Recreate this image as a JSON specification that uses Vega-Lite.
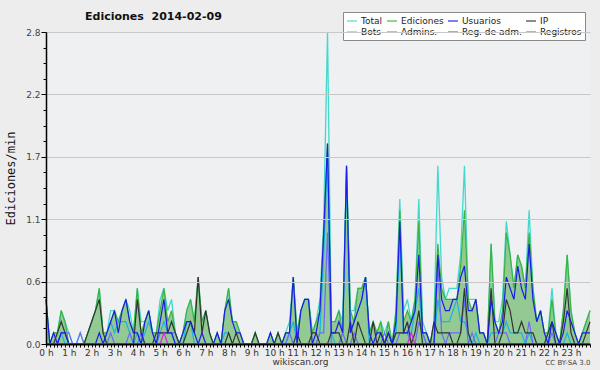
{
"$schema": "https://vega.github.io/schema/vega-lite/v6.json",
"width": 544, "height": 312,
"autosize": {"type": "none"},
"padding": {"left": 46, "top": 32, "right": 10, "bottom": 26},
"background": "#ededed",
"config": {"view": {"fill": "#eef0f2", "stroke": null}, "font": "DejaVu Sans"},
"title": {"text": "Ediciones\u00a0 2014-02-09", "anchor": "start", "frame": "group", "dx": 39, "offset": -10, "fontSize": 11, "fontWeight": "bold", "font": "DejaVu Sans", "color": "#111"},
"data": {"values": [
{"m":0,"total":0.4,"edic":0.4,"usu":0.4,"ip":0,"bots":0,"adm":0,"reg":0,"regadm":0},
{"m":10,"total":0,"edic":0,"usu":0,"ip":0,"bots":0,"adm":0,"reg":0,"regadm":0},
{"m":20,"total":0.1,"edic":0.1,"usu":0.1,"ip":0,"bots":0,"adm":0,"reg":0,"regadm":0},
{"m":30,"total":0.1,"edic":0.1,"usu":0,"ip":0.1,"bots":0,"adm":0,"reg":0,"regadm":0},
{"m":40,"total":0.3,"edic":0.3,"usu":0.1,"ip":0.2,"bots":0,"adm":0.1,"reg":0.1,"regadm":0},
{"m":50,"total":0.2,"edic":0.2,"usu":0.1,"ip":0.1,"bots":0,"adm":0,"reg":0.1,"regadm":0},
{"m":60,"total":0.1,"edic":0,"usu":0,"ip":0,"bots":0,"adm":0,"reg":0.1,"regadm":0},
{"m":70,"total":0,"edic":0,"usu":0,"ip":0,"bots":0,"adm":0,"reg":0,"regadm":0},
{"m":80,"total":0,"edic":0,"usu":0,"ip":0,"bots":0,"adm":0,"reg":0,"regadm":0},
{"m":90,"total":0.1,"edic":0,"usu":0,"ip":0,"bots":0,"adm":0,"reg":0.1,"regadm":0},
{"m":100,"total":0,"edic":0,"usu":0,"ip":0,"bots":0,"adm":0,"reg":0,"regadm":0},
{"m":110,"total":0.1,"edic":0.1,"usu":0,"ip":0.1,"bots":0,"adm":0,"reg":0,"regadm":0},
{"m":120,"total":0.2,"edic":0.2,"usu":0,"ip":0.2,"bots":0,"adm":0,"reg":0,"regadm":0},
{"m":130,"total":0.3,"edic":0.3,"usu":0,"ip":0.3,"bots":0,"adm":0,"reg":0,"regadm":0},
{"m":140,"total":0.5,"edic":0.5,"usu":0.1,"ip":0.4,"bots":0,"adm":0,"reg":0,"regadm":0},
{"m":150,"total":0.1,"edic":0.1,"usu":0,"ip":0.1,"bots":0,"adm":0,"reg":0,"regadm":0},
{"m":160,"total":0.1,"edic":0.1,"usu":0.1,"ip":0,"bots":0,"adm":0.1,"reg":0,"regadm":0},
{"m":170,"total":0.3,"edic":0.2,"usu":0.2,"ip":0,"bots":0,"adm":0.2,"reg":0.1,"regadm":0},
{"m":180,"total":0.3,"edic":0.3,"usu":0.3,"ip":0,"bots":0,"adm":0.1,"reg":0,"regadm":0},
{"m":190,"total":0.2,"edic":0.2,"usu":0.1,"ip":0,"bots":0,"adm":0.2,"reg":0,"regadm":0},
{"m":200,"total":0.3,"edic":0.3,"usu":0.3,"ip":0,"bots":0,"adm":0.2,"reg":0,"regadm":0},
{"m":210,"total":0.4,"edic":0.4,"usu":0.4,"ip":0,"bots":0,"adm":0.2,"reg":0,"regadm":0},
{"m":220,"total":0.3,"edic":0.2,"usu":0.2,"ip":0,"bots":0,"adm":0.1,"reg":0.1,"regadm":0},
{"m":230,"total":0.1,"edic":0.1,"usu":0.1,"ip":0,"bots":0,"adm":0,"reg":0,"regadm":0},
{"m":240,"total":0.5,"edic":0.5,"usu":0.1,"ip":0.4,"bots":0,"adm":0.1,"reg":0,"regadm":0},
{"m":250,"total":0.2,"edic":0.1,"usu":0,"ip":0.1,"bots":0,"adm":0,"reg":0.1,"regadm":0},
{"m":260,"total":0.2,"edic":0.2,"usu":0.2,"ip":0,"bots":0,"adm":0.1,"reg":0,"regadm":0},
{"m":270,"total":0.3,"edic":0.3,"usu":0.3,"ip":0,"bots":0,"adm":0.2,"reg":0,"regadm":0},
{"m":280,"total":0.1,"edic":0.1,"usu":0.1,"ip":0,"bots":0,"adm":0.1,"reg":0,"regadm":0},
{"m":290,"total":0.1,"edic":0.1,"usu":0,"ip":0.1,"bots":0,"adm":0,"reg":0,"regadm":0},
{"m":300,"total":0.4,"edic":0.3,"usu":0.2,"ip":0.1,"bots":0,"adm":0.1,"reg":0.1,"regadm":0},
{"m":310,"total":0.5,"edic":0.5,"usu":0.4,"ip":0.1,"bots":0,"adm":0.2,"reg":0.1,"regadm":0.1},
{"m":320,"total":0.3,"edic":0.2,"usu":0.1,"ip":0.1,"bots":0,"adm":0.1,"reg":0.1,"regadm":0},
{"m":330,"total":0.4,"edic":0.3,"usu":0.1,"ip":0.2,"bots":0,"adm":0.1,"reg":0.1,"regadm":0},
{"m":340,"total":0.1,"edic":0.1,"usu":0,"ip":0.1,"bots":0,"adm":0,"reg":0.1,"regadm":0},
{"m":350,"total":0,"edic":0,"usu":0,"ip":0,"bots":0,"adm":0,"reg":0,"regadm":0},
{"m":360,"total":0.1,"edic":0.1,"usu":0.1,"ip":0,"bots":0,"adm":0,"reg":0,"regadm":0},
{"m":370,"total":0.3,"edic":0.3,"usu":0.2,"ip":0.1,"bots":0,"adm":0.2,"reg":0,"regadm":0},
{"m":380,"total":0.4,"edic":0.4,"usu":0.2,"ip":0.2,"bots":0,"adm":0.2,"reg":0,"regadm":0},
{"m":390,"total":0.2,"edic":0.2,"usu":0.1,"ip":0.1,"bots":0,"adm":0,"reg":0,"regadm":0},
{"m":400,"total":0.6,"edic":0.6,"usu":0,"ip":0.6,"bots":0,"adm":0,"reg":0,"regadm":0},
{"m":410,"total":0.2,"edic":0.2,"usu":0.1,"ip":0.1,"bots":0,"adm":0,"reg":0,"regadm":0},
{"m":420,"total":0.3,"edic":0.3,"usu":0,"ip":0.3,"bots":0,"adm":0,"reg":0,"regadm":0},
{"m":430,"total":0.1,"edic":0.1,"usu":0,"ip":0.1,"bots":0,"adm":0,"reg":0,"regadm":0},
{"m":440,"total":0,"edic":0,"usu":0,"ip":0,"bots":0,"adm":0,"reg":0,"regadm":0},
{"m":450,"total":0.1,"edic":0.1,"usu":0.1,"ip":0,"bots":0,"adm":0,"reg":0,"regadm":0},
{"m":460,"total":0,"edic":0,"usu":0,"ip":0,"bots":0,"adm":0,"reg":0,"regadm":0},
{"m":470,"total":0.3,"edic":0.3,"usu":0.3,"ip":0,"bots":0,"adm":0.1,"reg":0,"regadm":0},
{"m":480,"total":0.5,"edic":0.5,"usu":0.4,"ip":0.1,"bots":0,"adm":0.1,"reg":0,"regadm":0},
{"m":490,"total":0.2,"edic":0.2,"usu":0.2,"ip":0,"bots":0,"adm":0,"reg":0,"regadm":0},
{"m":500,"total":0.2,"edic":0.2,"usu":0.1,"ip":0.1,"bots":0,"adm":0,"reg":0,"regadm":0},
{"m":510,"total":0.1,"edic":0.1,"usu":0.1,"ip":0,"bots":0,"adm":0,"reg":0,"regadm":0},
{"m":520,"total":0,"edic":0,"usu":0,"ip":0,"bots":0,"adm":0,"reg":0,"regadm":0},
{"m":530,"total":0,"edic":0,"usu":0,"ip":0,"bots":0,"adm":0,"reg":0,"regadm":0},
{"m":540,"total":0,"edic":0,"usu":0,"ip":0,"bots":0,"adm":0,"reg":0,"regadm":0},
{"m":550,"total":0.1,"edic":0.1,"usu":0,"ip":0.1,"bots":0,"adm":0,"reg":0,"regadm":0},
{"m":560,"total":0,"edic":0,"usu":0,"ip":0,"bots":0,"adm":0,"reg":0,"regadm":0},
{"m":570,"total":0,"edic":0,"usu":0,"ip":0,"bots":0,"adm":0,"reg":0,"regadm":0},
{"m":580,"total":0,"edic":0,"usu":0,"ip":0,"bots":0,"adm":0,"reg":0,"regadm":0},
{"m":590,"total":0.1,"edic":0.1,"usu":0.1,"ip":0,"bots":0,"adm":0,"reg":0,"regadm":0},
{"m":600,"total":0,"edic":0,"usu":0,"ip":0,"bots":0,"adm":0,"reg":0,"regadm":0},
{"m":610,"total":0.1,"edic":0.1,"usu":0,"ip":0.1,"bots":0,"adm":0,"reg":0,"regadm":0},
{"m":620,"total":0,"edic":0,"usu":0,"ip":0,"bots":0,"adm":0,"reg":0,"regadm":0},
{"m":630,"total":0.1,"edic":0.1,"usu":0.1,"ip":0,"bots":0,"adm":0,"reg":0,"regadm":0},
{"m":640,"total":0.2,"edic":0.1,"usu":0.1,"ip":0,"bots":0,"adm":0.1,"reg":0.1,"regadm":0},
{"m":650,"total":0.6,"edic":0.6,"usu":0.6,"ip":0,"bots":0,"adm":0.2,"reg":0,"regadm":0},
{"m":660,"total":0.1,"edic":0.1,"usu":0,"ip":0.1,"bots":0,"adm":0,"reg":0,"regadm":0},
{"m":670,"total":0.3,"edic":0.3,"usu":0.3,"ip":0,"bots":0,"adm":0,"reg":0,"regadm":0},
{"m":680,"total":0.4,"edic":0.4,"usu":0.4,"ip":0,"bots":0,"adm":0,"reg":0,"regadm":0},
{"m":690,"total":0.4,"edic":0.4,"usu":0.4,"ip":0,"bots":0,"adm":0,"reg":0,"regadm":0},
{"m":700,"total":0.1,"edic":0.1,"usu":0,"ip":0.1,"bots":0,"adm":0,"reg":0,"regadm":0},
{"m":710,"total":0.2,"edic":0.2,"usu":0.1,"ip":0.1,"bots":0,"adm":0,"reg":0,"regadm":0},
{"m":720,"total":0.4,"edic":0.3,"usu":0.3,"ip":0,"bots":0,"adm":0.1,"reg":0.1,"regadm":0},
{"m":730,"total":1.1,"edic":1.0,"usu":1.0,"ip":0,"bots":0,"adm":0.8,"reg":0.1,"regadm":0},
{"m":740,"total":2.8,"edic":1.8,"usu":1.8,"ip":0,"bots":0,"adm":1.7,"reg":1.0,"regadm":0},
{"m":750,"total":0.2,"edic":0.2,"usu":0.1,"ip":0.1,"bots":0,"adm":0.1,"reg":0,"regadm":0},
{"m":760,"total":0.2,"edic":0.2,"usu":0.1,"ip":0.1,"bots":0,"adm":0,"reg":0,"regadm":0},
{"m":770,"total":0.3,"edic":0.3,"usu":0.2,"ip":0.1,"bots":0,"adm":0,"reg":0,"regadm":0},
{"m":780,"total":0.2,"edic":0.1,"usu":0.1,"ip":0,"bots":0,"adm":0.1,"reg":0.1,"regadm":0},
{"m":790,"total":1.6,"edic":1.6,"usu":1.6,"ip":0,"bots":0,"adm":1.5,"reg":0,"regadm":0},
{"m":800,"total":0.3,"edic":0.3,"usu":0.1,"ip":0.2,"bots":0,"adm":0.1,"reg":0,"regadm":0},
{"m":810,"total":0.3,"edic":0.2,"usu":0.2,"ip":0,"bots":0,"adm":0.2,"reg":0.1,"regadm":0},
{"m":820,"total":0.5,"edic":0.5,"usu":0.3,"ip":0.2,"bots":0,"adm":0.3,"reg":0,"regadm":0},
{"m":830,"total":0.5,"edic":0.5,"usu":0.4,"ip":0.1,"bots":0,"adm":0.4,"reg":0,"regadm":0},
{"m":840,"total":0.6,"edic":0.6,"usu":0.6,"ip":0,"bots":0,"adm":0.6,"reg":0,"regadm":0},
{"m":850,"total":0.1,"edic":0.1,"usu":0.1,"ip":0,"bots":0,"adm":0,"reg":0,"regadm":0},
{"m":860,"total":0.2,"edic":0.2,"usu":0,"ip":0.2,"bots":0,"adm":0,"reg":0,"regadm":0},
{"m":870,"total":0.1,"edic":0.1,"usu":0.1,"ip":0,"bots":0,"adm":0,"reg":0,"regadm":0},
{"m":880,"total":0.2,"edic":0.2,"usu":0.1,"ip":0.1,"bots":0,"adm":0,"reg":0,"regadm":0},
{"m":890,"total":0.1,"edic":0,"usu":0,"ip":0,"bots":0,"adm":0,"reg":0.1,"regadm":0},
{"m":900,"total":0.2,"edic":0.2,"usu":0.1,"ip":0.1,"bots":0,"adm":0,"reg":0,"regadm":0},
{"m":910,"total":0,"edic":0,"usu":0,"ip":0,"bots":0,"adm":0,"reg":0,"regadm":0},
{"m":920,"total":0.3,"edic":0.3,"usu":0.2,"ip":0.1,"bots":0,"adm":0.1,"reg":0,"regadm":0},
{"m":930,"total":1.3,"edic":1.2,"usu":1.1,"ip":0.1,"bots":0,"adm":1.0,"reg":0.1,"regadm":0},
{"m":940,"total":0.3,"edic":0.2,"usu":0.1,"ip":0.1,"bots":0,"adm":0.1,"reg":0.1,"regadm":0},
{"m":950,"total":0.4,"edic":0.3,"usu":0.1,"ip":0.2,"bots":0,"adm":0.1,"reg":0.1,"regadm":0},
{"m":960,"total":0.2,"edic":0.2,"usu":0.2,"ip":0,"bots":0,"adm":0.1,"reg":0,"regadm":0.1},
{"m":970,"total":0.4,"edic":0.4,"usu":0.3,"ip":0.1,"bots":0,"adm":0.3,"reg":0,"regadm":0},
{"m":980,"total":1.3,"edic":1.1,"usu":0.8,"ip":0.3,"bots":0,"adm":0.5,"reg":0.2,"regadm":0},
{"m":990,"total":0.2,"edic":0.1,"usu":0.1,"ip":0,"bots":0,"adm":0.1,"reg":0.1,"regadm":0},
{"m":1000,"total":0.1,"edic":0.1,"usu":0.1,"ip":0,"bots":0,"adm":0,"reg":0,"regadm":0},
{"m":1010,"total":0,"edic":0,"usu":0,"ip":0,"bots":0,"adm":0,"reg":0,"regadm":0},
{"m":1020,"total":0.2,"edic":0.2,"usu":0,"ip":0.2,"bots":0,"adm":0,"reg":0,"regadm":0},
{"m":1030,"total":1.6,"edic":0.9,"usu":0.8,"ip":0.1,"bots":0,"adm":0.4,"reg":0.7,"regadm":0},
{"m":1040,"total":0.6,"edic":0.5,"usu":0.4,"ip":0.1,"bots":0,"adm":0.2,"reg":0.1,"regadm":0},
{"m":1050,"total":0.4,"edic":0.4,"usu":0.3,"ip":0.1,"bots":0,"adm":0.2,"reg":0,"regadm":0},
{"m":1060,"total":0.5,"edic":0.4,"usu":0.3,"ip":0.1,"bots":0,"adm":0.2,"reg":0.1,"regadm":0},
{"m":1070,"total":0.5,"edic":0.4,"usu":0.4,"ip":0,"bots":0,"adm":0.3,"reg":0.1,"regadm":0},
{"m":1080,"total":0.5,"edic":0.4,"usu":0.4,"ip":0,"bots":0,"adm":0.4,"reg":0.1,"regadm":0},
{"m":1090,"total":0.8,"edic":0.7,"usu":0.6,"ip":0.1,"bots":0,"adm":0.2,"reg":0.1,"regadm":0},
{"m":1100,"total":1.6,"edic":1.2,"usu":0.7,"ip":0.5,"bots":0,"adm":0.2,"reg":0.4,"regadm":0},
{"m":1110,"total":0.4,"edic":0.4,"usu":0.3,"ip":0.1,"bots":0,"adm":0.1,"reg":0,"regadm":0},
{"m":1120,"total":0.4,"edic":0.3,"usu":0.3,"ip":0,"bots":0,"adm":0,"reg":0.1,"regadm":0},
{"m":1130,"total":0.4,"edic":0.4,"usu":0.4,"ip":0,"bots":0,"adm":0.1,"reg":0,"regadm":0},
{"m":1140,"total":0.1,"edic":0.1,"usu":0.1,"ip":0,"bots":0,"adm":0,"reg":0,"regadm":0},
{"m":1150,"total":0.1,"edic":0.1,"usu":0.1,"ip":0,"bots":0,"adm":0,"reg":0,"regadm":0},
{"m":1160,"total":0,"edic":0,"usu":0,"ip":0,"bots":0,"adm":0,"reg":0,"regadm":0},
{"m":1170,"total":0.9,"edic":0.9,"usu":0.4,"ip":0.5,"bots":0,"adm":0.1,"reg":0,"regadm":0},
{"m":1180,"total":0.2,"edic":0.2,"usu":0.2,"ip":0,"bots":0,"adm":0.1,"reg":0,"regadm":0},
{"m":1190,"total":0.2,"edic":0.1,"usu":0.1,"ip":0,"bots":0,"adm":0.1,"reg":0.1,"regadm":0},
{"m":1200,"total":0.4,"edic":0.3,"usu":0.2,"ip":0.1,"bots":0,"adm":0.1,"reg":0.1,"regadm":0},
{"m":1210,"total":1.1,"edic":1.0,"usu":0.6,"ip":0.4,"bots":0,"adm":0.2,"reg":0.1,"regadm":0},
{"m":1220,"total":0.8,"edic":0.8,"usu":0.5,"ip":0.3,"bots":0,"adm":0.1,"reg":0,"regadm":0},
{"m":1230,"total":0.5,"edic":0.5,"usu":0.4,"ip":0.1,"bots":0,"adm":0.1,"reg":0,"regadm":0},
{"m":1240,"total":0.8,"edic":0.8,"usu":0.7,"ip":0.1,"bots":0,"adm":0.1,"reg":0,"regadm":0},
{"m":1250,"total":0.7,"edic":0.7,"usu":0.5,"ip":0.2,"bots":0,"adm":0.1,"reg":0,"regadm":0},
{"m":1260,"total":0.5,"edic":0.5,"usu":0.4,"ip":0.1,"bots":0,"adm":0,"reg":0,"regadm":0},
{"m":1270,"total":1.2,"edic":1.0,"usu":0.9,"ip":0.1,"bots":0,"adm":0.1,"reg":0.2,"regadm":0},
{"m":1280,"total":0.5,"edic":0.5,"usu":0.4,"ip":0.1,"bots":0,"adm":0,"reg":0,"regadm":0},
{"m":1290,"total":0.2,"edic":0.2,"usu":0.2,"ip":0,"bots":0,"adm":0,"reg":0,"regadm":0},
{"m":1300,"total":0.3,"edic":0.3,"usu":0.3,"ip":0,"bots":0,"adm":0,"reg":0,"regadm":0},
{"m":1310,"total":0.1,"edic":0.1,"usu":0.1,"ip":0,"bots":0,"adm":0,"reg":0,"regadm":0},
{"m":1320,"total":0.1,"edic":0.1,"usu":0,"ip":0.1,"bots":0,"adm":0,"reg":0,"regadm":0},
{"m":1330,"total":0.5,"edic":0.4,"usu":0.2,"ip":0.2,"bots":0,"adm":0.2,"reg":0.1,"regadm":0},
{"m":1340,"total":0.1,"edic":0.1,"usu":0.1,"ip":0,"bots":0,"adm":0.1,"reg":0,"regadm":0},
{"m":1350,"total":0,"edic":0,"usu":0,"ip":0,"bots":0,"adm":0,"reg":0,"regadm":0},
{"m":1360,"total":0.3,"edic":0.3,"usu":0.1,"ip":0.2,"bots":0,"adm":0,"reg":0,"regadm":0},
{"m":1370,"total":0.8,"edic":0.8,"usu":0.3,"ip":0.5,"bots":0,"adm":0.1,"reg":0,"regadm":0},
{"m":1380,"total":0.3,"edic":0.3,"usu":0.2,"ip":0.1,"bots":0,"adm":0,"reg":0,"regadm":0},
{"m":1390,"total":0.1,"edic":0.1,"usu":0.1,"ip":0,"bots":0,"adm":0,"reg":0,"regadm":0},
{"m":1400,"total":0,"edic":0,"usu":0,"ip":0,"bots":0,"adm":0,"reg":0,"regadm":0},
{"m":1410,"total":0.1,"edic":0.1,"usu":0.1,"ip":0,"bots":0,"adm":0,"reg":0,"regadm":0},
{"m":1420,"total":0.2,"edic":0.2,"usu":0.1,"ip":0.1,"bots":0,"adm":0,"reg":0,"regadm":0},
{"m":1430,"total":0.3,"edic":0.3,"usu":0.1,"ip":0.2,"bots":0,"adm":0,"reg":0,"regadm":0}
]},
"encoding": {
  "x": {"field": "m", "type": "quantitative", "title": "wikiscan.org", "scale": {"domain": [0, 1430], "nice": false, "zero": false},
   "axis": {"values": [0,10,20,30,40,50,60,70,80,90,100,110,120,130,140,150,160,170,180,190,200,210,220,230,240,250,260,270,280,290,300,310,320,330,340,350,360,370,380,390,400,410,420,430,440,450,460,470,480,490,500,510,520,530,540,550,560,570,580,590,600,610,620,630,640,650,660,670,680,690,700,710,720,730,740,750,760,770,780,790,800,810,820,830,840,850,860,870,880,890,900,910,920,930,940,950,960,970,980,990,1000,1010,1020,1030,1040,1050,1060,1070,1080,1090,1100,1110,1120,1130,1140,1150,1160,1170,1180,1190,1200,1210,1220,1230,1240,1250,1260,1270,1280,1290,1300,1310,1320,1330,1340,1350,1360,1370,1380,1390,1400,1410,1420,1430],
    "labelExpr": "datum.value % 60 == 0 ? (datum.value / 60) + ' h' : ''",
    "labelOverlap": false, "labelFlush": false, "labelFontSize": 9, "labelColor": "#333", "labelPadding": 1,
    "tickSize": 3, "tickColor": "#000", "domainColor": "#000", "domainWidth": 2, "grid": false, "zindex": 1,
    "titleFontSize": 9, "titleFontWeight": "normal", "titleColor": "#333", "titleX": 254, "titleY": 17, "titleBaseline": "middle", "titleAlign": "center"}}
},
"resolve": {"axis": {"y": "independent"}},
"layer": [
{"mark": {"type": "area", "color": "#93c993", "interpolate": "linear"},
 "encoding": {
  "y": {"field": "edic", "type": "quantitative", "title": "Ediciones/min", "scale": {"domain": [0, 2.8], "nice": false},
   "axis": {"values": [0,0.14,0.28,0.42,0.56,0.7,0.84,0.98,1.12,1.26,1.4,1.54,1.68,1.82,1.96,2.1,2.24,2.38,2.52,2.66,2.8],
    "labelExpr": "round(datum.value / 0.14) % 4 == 0 ? format(datum.value, '.1f') : ''",
    "labelOverlap": false, "labelFlush": false, "labelFontSize": 9, "labelColor": "#444", "labelPadding": 1,
    "tickSize": {"condition": {"test": "round(datum.value / 0.14) % 4 == 0", "value": 5}, "value": 3},
    "tickColor": "#000", "domainColor": "#000", "domainWidth": 1.5, "zindex": 1,
    "grid": true, "gridColor": "#c8c8c8", "gridWidth": 1,
    "gridOpacity": {"condition": {"test": "round(datum.value / 0.14) % 4 == 0 && datum.value > 0", "value": 1}, "value": 0},
    "titleFont": "DejaVu Sans Mono", "titleFontSize": 12, "titleFontWeight": "normal", "titleColor": "#111", "titlePadding": 8, "titleY": 146}}
 }},
{"mark": {"type": "line", "strokeWidth": 1.3},
 "encoding": {
  "y": {"field": "total", "type": "quantitative", "axis": {"orient": "right", "labels": false, "ticks": false, "domain": false, "grid": false, "title": "CC BY-SA 3.0", "titleAngle": 0, "titleFontSize": 7, "titleFontWeight": "normal", "titleColor": "#444", "titleX": 0, "titleY": 330, "titleAlign": "right", "titleBaseline": "middle"}},
  "color": {"datum": "Total", "type": "nominal",
   "scale": {"domain": ["Total", "Ediciones", "Usuarios", "IP", "Bots", "Admins.", "Reg. de adm.", "Registros"],
             "range": ["#44d8cc", "#3cb43c", "#1c1ce6", "#333333", "#ff9a20", "#1ab4e0", "#e020e0", "#6a6aff"]},
   "legend": {"orient": "none", "legendX": 297, "legendY": -20, "direction": "horizontal", "columns": 4, "title": null,
    "symbolType": "stroke", "symbolSize": 100, "symbolStrokeWidth": 1.5, "symbolOpacity": 0.75,
    "labelFontSize": 9, "labelFont": "DejaVu Sans", "labelColor": "#222", "labelOffset": 3,
    "columnPadding": 1, "rowPadding": -2, "padding": 3,
    "fillColor": "#ffffff", "strokeColor": "#888888"}}
 }},
{"mark": {"type": "line", "strokeWidth": 1.2},
 "encoding": {"y": {"field": "edic", "type": "quantitative", "axis": null}, "color": {"datum": "Ediciones", "type": "nominal"}}},
{"mark": {"type": "line", "strokeWidth": 1.2},
 "encoding": {"y": {"field": "adm", "type": "quantitative", "axis": null}, "color": {"datum": "Admins.", "type": "nominal"}}},
{"mark": {"type": "line", "strokeWidth": 1.2},
 "encoding": {"y": {"field": "reg", "type": "quantitative", "axis": null}, "color": {"datum": "Registros", "type": "nominal"}}},
{"mark": {"type": "line", "strokeWidth": 1.2},
 "encoding": {"y": {"field": "ip", "type": "quantitative", "axis": null}, "color": {"datum": "IP", "type": "nominal"}}},
{"mark": {"type": "line", "strokeWidth": 1.2},
 "encoding": {"y": {"field": "usu", "type": "quantitative", "axis": null}, "color": {"datum": "Usuarios", "type": "nominal"}}},
{"mark": {"type": "line", "strokeWidth": 1.2},
 "encoding": {"y": {"field": "regadm", "type": "quantitative", "axis": null}, "color": {"datum": "Reg. de adm.", "type": "nominal"}}},
{"mark": {"type": "line", "strokeWidth": 1.2},
 "encoding": {"y": {"field": "bots", "type": "quantitative", "axis": null}, "color": {"datum": "Bots", "type": "nominal"}}}
]
}
